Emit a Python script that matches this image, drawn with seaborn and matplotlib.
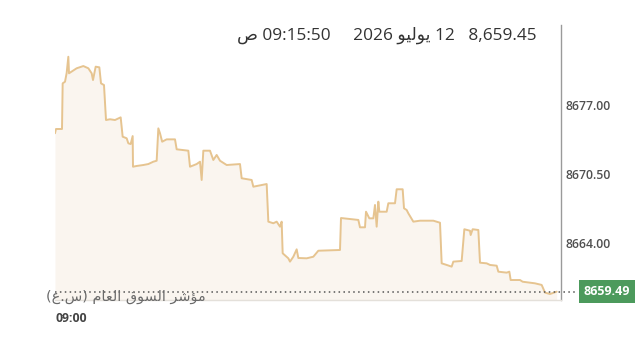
import matplotlib
matplotlib.use("Agg")
import matplotlib.pyplot as plt
import seaborn as sns
import pandas as pd

# ---- data (minutes since 09:00, index value) ----
minutes = [0, 0.6, 4.2, 4.6, 6, 7, 8, 8.4, 13, 17, 20, 22, 22.8, 24.4, 26.6, 27.6, 29.4,
           30.6, 33, 36, 39.4, 40.6, 43, 44, 45.4, 46.6, 46.8, 49, 53, 56, 59, 61, 62, 63,
           64.3, 67, 72, 73, 80, 81, 85, 87, 88, 89, 93, 95, 97, 99, 101.4, 103, 111, 112,
           118, 119, 127, 128, 131, 133, 135, 136, 136.6, 140, 141, 143, 145, 146, 151, 155,
           158, 171, 171.6, 182, 183, 186, 186.6, 188.6, 191, 192, 193, 194, 194.6, 199, 200,
           204, 205, 208.6, 209.4, 211, 212, 215, 219, 227, 231, 232, 235, 238, 239, 244,
           245.6, 249, 249.4, 250.6, 254, 255, 259, 261, 265, 266, 271, 272.6, 273.4, 279,
           280.6, 288, 292, 294, 297, 301]
values = [8674.31, 8674.71, 8674.71, 8678.98, 8679.13, 8679.95, 8681.47, 8679.92, 8680.39,
          8680.60, 8680.39, 8679.92, 8679.29, 8680.54, 8680.48, 8678.98, 8678.82, 8675.55,
          8675.62, 8675.55, 8675.80, 8673.99, 8673.84, 8673.37, 8673.30, 8674.05, 8671.18,
          8671.25, 8671.34, 8671.43, 8671.65, 8671.74, 8674.77, 8674.31, 8673.52, 8673.74,
          8673.74, 8672.81, 8672.68, 8671.18, 8671.43, 8671.65, 8669.94, 8672.68, 8672.68,
          8671.81, 8672.28, 8671.74, 8671.50, 8671.34, 8671.43, 8670.10, 8669.94, 8669.31,
          8669.56, 8666.04, 8665.89, 8666.04, 8665.57, 8666.04, 8663.08, 8662.61, 8662.30,
          8662.76, 8663.45, 8662.64, 8662.61, 8662.76, 8663.32, 8663.39, 8666.38, 8666.20,
          8665.51, 8665.51, 8666.97, 8666.35, 8666.35, 8667.60, 8665.57, 8667.91, 8666.97,
          8666.97, 8667.76, 8667.76, 8669.07, 8669.07, 8667.29, 8667.13, 8666.82, 8666.04,
          8666.13, 8666.13, 8665.94, 8662.14, 8661.99, 8661.83, 8662.30, 8662.36, 8665.33,
          8665.19, 8664.79, 8665.33, 8665.26, 8662.20, 8662.14, 8661.99, 8661.92, 8661.36,
          8661.27, 8661.36, 8660.58, 8660.58, 8660.42, 8660.27, 8660.12, 8659.40, 8659.27,
          8659.49]
ytick_values = [8664.00, 8670.50, 8677.00]
last_value = 8659.49
x_label = "09:00"

# Arabic text, pre-shaped into presentation forms in visual (left-to-right) order
title_text = "\uFEB9 09:15:50     2026 \uFEEE\uFEF4\uFEDF\uFEEE\uFEF3 12   8,659.45"
index_name = "(\uFEC9.\uFEB1) \uFEE1\uFE8E\uFECC\uFEDF\uFE8D \uFED5\uFEEE\uFEB4\uFEDF\uFE8D \uFEAE\uFEB7\uFE86\uFEE3"

df = pd.DataFrame({"minute": minutes, "value": values})

sns.set_theme(style="white")
plt.rcParams["font.family"] = ["Open Sans", "DejaVu Sans"]

W, H = 640, 341
fig = plt.figure(figsize=(W / 100, H / 100), dpi=100)
fig.patch.set_facecolor("white")
ax = fig.add_axes([55 / W, 1 - 300 / H, (561 - 55) / W, (300 - 25) / H])
ax.set_facecolor("white")

line_color = "#e6c490"
fill_color = "#faf5ef"
ymin, ymax = 8658.71, 8684.44

ax.fill_between(df["minute"], df["value"], ymin, color=fill_color, zorder=1, lw=0)
sns.lineplot(data=df, x="minute", y="value", ax=ax, color=line_color, lw=1.4, zorder=3)

ax.set_xlim(0, 303.6)
ax.set_ylim(ymin, ymax)

# dotted last-value line extending toward the label box
ax.plot([0, 1.034], [last_value, last_value], transform=ax.get_yaxis_transform(),
        ls=(0, (1, 2.2)), color="#555555", lw=1.1, clip_on=False, zorder=4)

for s in ["top", "left"]:
    ax.spines[s].set_visible(False)
ax.spines["right"].set_color("#9a9a9a")
ax.spines["right"].set_linewidth(1.0)
ax.spines["bottom"].set_color("#e4e0da")
ax.spines["bottom"].set_linewidth(1.0)

ax.yaxis.tick_right()
ax.set_yticks(ytick_values)
ax.set_yticklabels([f"{v:.2f}" for v in ytick_values], fontsize=8.8, color="#505050",
                   fontweight="semibold")
ax.tick_params(axis="y", length=0, pad=3)
ax.set_xticks([0])
ax.set_xticklabels([x_label], fontsize=8.8, color="#444444", fontweight="bold", ha="left")
ax.tick_params(axis="x", length=0, pad=9)
ax.set_xlabel("")
ax.set_ylabel("")

# last value badge
ax.text(1.0905, last_value, f"{last_value:.2f}", transform=ax.get_yaxis_transform(),
        ha="center", va="center", fontsize=9, color="white", fontweight="bold",
        bbox=dict(boxstyle="square,pad=0.38", fc="#4c9a5c", ec="none"), zorder=6, clip_on=False)

# header
fig.text(537 / W, 1 - 35 / H, title_text, ha="right", va="center", fontsize=12.4,
         color="#333333", fontweight="medium", family=["Open Sans", "DejaVu Sans"])

# index name label
fig.text(46 / W, 1 - 297 / H, index_name, ha="left", va="center", fontsize=10.4,
         color="#6a6a6a", family=["DejaVu Sans"])

fig.savefig("out.png", dpi=100)
